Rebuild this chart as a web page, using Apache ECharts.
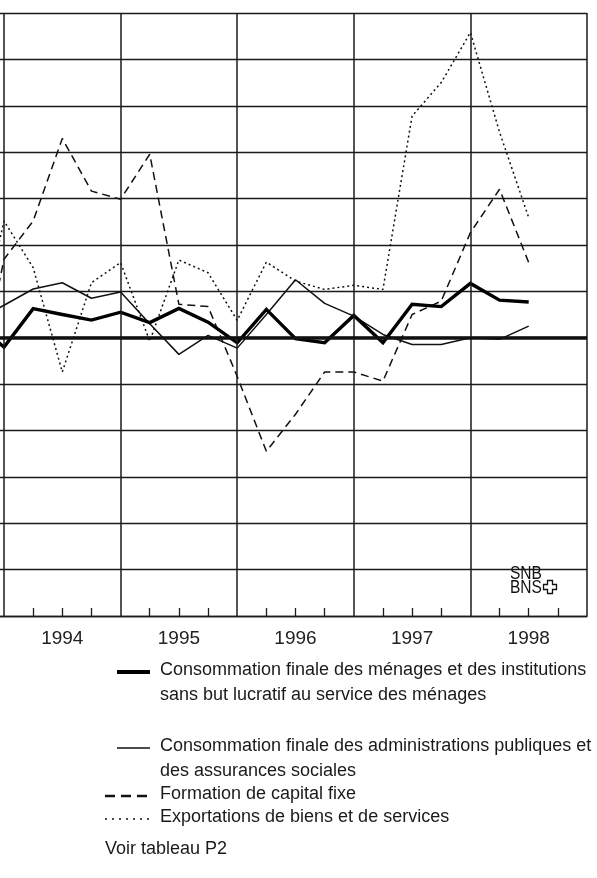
<!DOCTYPE html>
<html>
<head>
<meta charset="utf-8">
<script src="https://cdn.jsdelivr.net/npm/echarts@6/dist/echarts.min.js"></script>
<style>
  html, body { margin: 0; padding: 0; background: #ffffff; }
  #chart { width: 597px; height: 878px; }
</style>
</head>
<body>
<div id="chart"></div>
<script>
// Quarterly periods (index 0 = 3e trimestre 1993)
const quarters = [
  '1993 T3', '1993 T4',
  '1994 T1', '1994 T2', '1994 T3', '1994 T4',
  '1995 T1', '1995 T2', '1995 T3', '1995 T4',
  '1996 T1', '1996 T2', '1996 T3', '1996 T4',
  '1997 T1', '1997 T2', '1997 T3', '1997 T4',
  '1998 T1', '1998 T2'
];

// Variation en % par rapport à la période précédente
const menages = [0.6, -0.4, 1.25, 1.0, 0.76, 1.1, 0.65, 1.26, 0.67, -0.22,
                 1.22, -0.04, -0.22, 0.96, -0.22, 1.44, 1.34, 2.34, 1.62, 1.54];
const administrations = [0.7, 1.4, 2.1, 2.37, 1.7, 1.97, 0.6, -0.72, 0.1, -0.45,
                         1.0, 2.5, 1.48, 0.93, 0.14, -0.29, -0.29, 0.0, -0.07, 0.5];
const capitalFixe = [-2.7, 3.38, 5.03, 8.59, 6.32, 5.97, 7.91, 1.44, 1.34, -1.67,
                     -4.9, -3.3, -1.48, -1.48, -1.87, 1.0, 1.58, 4.53, 6.4, 3.24];
const exportations = [-0.5, 5.03, 3.02, -1.48, 2.37, 3.24, -0.15, 3.35, 2.8, 0.75,
                      3.26, 2.44, 2.08, 2.26, 2.08, 9.56, 11.0, 13.16, 8.86, 5.18];

const yearLabels = ['1994', '1995', '1996', '1997', '1998'];

const legendItems = [
  ['Consommation finale des ménages et des institutions', 'sans but lucratif au service des ménages'],
  ['Consommation finale des administrations publiques et', 'des assurances sociales'],
  ['Formation de capital fixe'],
  ['Exportations de biens et de services']
];
const sourceNote = 'Voir tableau P2';

// Year boundaries sit on the fourth quarter of each year; the axis ends with 1998.
const yearEnds = quarters.map((q, i) => q.endsWith('T4') ? i : -1).filter(i => i >= 0);
yearEnds.push(yearEnds[yearEnds.length - 1] + 4);
const yearCentres = yearLabels.map((y, k) => yearEnds[k] + 2);
const quarterTicks = [];
for (let i = yearEnds[0]; i < yearEnds[yearEnds.length - 1]; i++) {
  if (!yearEnds.includes(i)) quarterTicks.push(i);
}

const toPairs = arr => arr.map((v, i) => [i, v]);
const INK = '#1b1b1b';
const FONT = 'Liberation Sans, Arial, sans-serif';
const LEGEND_FONT = '18px ' + FONT;

const chart = echarts.init(document.getElementById('chart'), null, { renderer: 'canvas' });

const lineBase = { type: 'line', showSymbol: false, symbol: 'none', clip: true, silent: true, animation: false };

const option = {
  backgroundColor: '#ffffff',
  animation: false,
  grid: { left: 0, right: 10, top: 13, bottom: 262, containLabel: false },
  xAxis: {
    type: 'value',
    min: 0.8628,
    max: yearEnds[yearEnds.length - 1],
    axisLine: { show: true, onZero: false, lineStyle: { color: INK, width: 1.4 } },
    axisTick: { show: true, inside: true, length: 8, customValues: quarterTicks,
                lineStyle: { color: INK, width: 1.3 } },
    axisLabel: { show: true, customValues: yearCentres, margin: 13,
                 color: '#222', fontFamily: FONT, fontSize: 19,
                 formatter: v => yearLabels[yearCentres.indexOf(Math.round(v))] || '' },
    splitLine: { show: false }
  },
  yAxis: {
    type: 'value',
    min: -12,
    max: 14,
    interval: 2,
    axisLine: { show: false },
    axisTick: { show: false },
    axisLabel: { show: false },
    splitLine: { show: true, lineStyle: { color: INK, width: 1.4 } }
  },
  series: [
    {
      ...lineBase,
      name: 'cadre',
      data: [],
      markLine: {
        silent: true, symbol: ['none', 'none'], label: { show: false }, animation: false,
        data: [
          ...yearEnds.map(v => ({ xAxis: v, lineStyle: { color: INK, width: 1.5, type: 'solid' } })),
          { yAxis: 0, lineStyle: { color: '#111', width: 3.6, type: 'solid' } }
        ]
      }
    },
    {
      ...lineBase,
      name: legendItems[1][0],
      data: toPairs(administrations),
      lineStyle: { color: '#111', width: 1.5, type: 'solid' },
      z: 3
    },
    {
      ...lineBase,
      name: legendItems[2][0],
      data: toPairs(capitalFixe),
      lineStyle: { color: '#111', width: 1.5, type: [8, 5] },
      z: 3
    },
    {
      ...lineBase,
      name: legendItems[3][0],
      data: toPairs(exportations),
      lineStyle: { color: '#111', width: 1.5, type: [2, 3] },
      z: 3
    },
    {
      ...lineBase,
      name: legendItems[0][0],
      data: toPairs(menages),
      lineStyle: { color: '#000', width: 3.4, type: 'solid', join: 'miter' },
      z: 4
    }
  ],
  graphic: [
    // Legend samples
    { type: 'line', shape: { x1: 117, y1: 672, x2: 150, y2: 672 }, style: { stroke: '#000', lineWidth: 4 } },
    { type: 'line', shape: { x1: 117, y1: 748, x2: 150, y2: 748 }, style: { stroke: '#111', lineWidth: 1.4 } },
    { type: 'line', shape: { x1: 105, y1: 796, x2: 150, y2: 796 }, style: { stroke: '#111', lineWidth: 2.6, lineDash: [10, 6] } },
    { type: 'line', shape: { x1: 105, y1: 819, x2: 150, y2: 819 }, style: { stroke: '#111', lineWidth: 1.3, lineDash: [2, 5] } },
    // Legend text
    { type: 'text', left: 160, top: 661, style: { text: legendItems[0][0], font: LEGEND_FONT, fill: '#1a1a1a' } },
    { type: 'text', left: 160, top: 686, style: { text: legendItems[0][1], font: LEGEND_FONT, fill: '#1a1a1a' } },
    { type: 'text', left: 160, top: 737, style: { text: legendItems[1][0], font: LEGEND_FONT, fill: '#1a1a1a' } },
    { type: 'text', left: 160, top: 762, style: { text: legendItems[1][1], font: LEGEND_FONT, fill: '#1a1a1a' } },
    { type: 'text', left: 160, top: 785, style: { text: legendItems[2][0], font: LEGEND_FONT, fill: '#1a1a1a' } },
    { type: 'text', left: 160, top: 808, style: { text: legendItems[3][0], font: LEGEND_FONT, fill: '#1a1a1a' } },
    { type: 'text', left: 105, top: 840, style: { text: sourceNote, font: LEGEND_FONT, fill: '#1a1a1a' } },
    // Bank mark
    { type: 'text', x: 510, y: 564, scaleX: 0.84, style: { text: 'SNB', font: '18.5px ' + FONT, fill: '#111' } },
    { type: 'text', x: 510, y: 578, scaleX: 0.84, style: { text: 'BNS', font: '18.5px ' + FONT, fill: '#111' } },
    {
      type: 'polygon',
      shape: { points: [[547.5, 580.5], [552.5, 580.5], [552.5, 584.5], [556.5, 584.5], [556.5, 589.5], [552.5, 589.5],
                        [552.5, 593.5], [547.5, 593.5], [547.5, 589.5], [543.5, 589.5], [543.5, 584.5], [547.5, 584.5]] },
      style: { fill: 'none', stroke: '#111', lineWidth: 1.3 }
    }
  ]
};

chart.setOption(option);
</script>
</body>
</html>
